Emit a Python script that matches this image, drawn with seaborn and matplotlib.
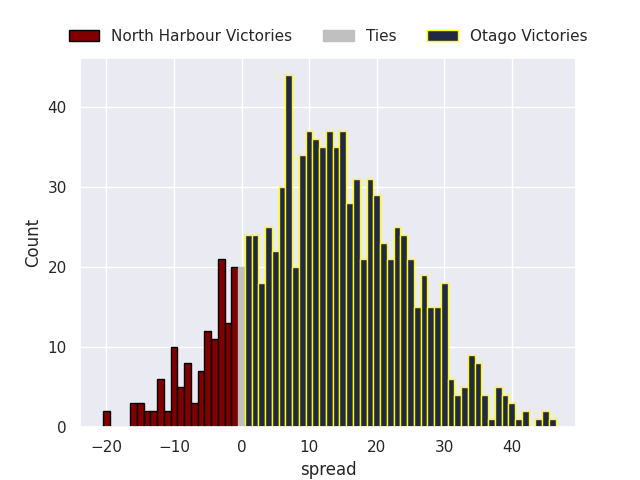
import matplotlib
matplotlib.use("Agg")
import matplotlib.pyplot as plt
import seaborn as sns
import pandas as pd

# North Harbour victories (negative spread)
nh_spread = [-20, -16, -15, -14, -13, -12, -11, -10, -9, -8, -7, -6, -5, -4, -3, -2, -1]
nh_count = [2, 3, 3, 2, 2, 6, 2, 10, 5, 8, 3, 7, 12, 11, 21, 13, 20]

# Ties
tie_spread = [0]
tie_count = [20]

# Otago victories (positive spread)
ot_spread = list(range(1, 47))
ot_count = [24, 24, 18, 25, 22, 30, 44, 20, 34, 37, 36, 35, 37, 35, 37, 28,
            31, 21, 31, 29, 23, 21, 25, 24, 21, 15, 19, 15, 15, 18, 6, 4,
            5, 9, 8, 4, 1, 5, 4, 3, 1, 2, 0, 1, 2, 1]

labels = ["North Harbour Victories", "Ties", "Otago Victories"]

sns.set_theme(style="darkgrid")
fig, ax = plt.subplots(figsize=(6.4, 4.8), dpi=100)

nh = pd.DataFrame({"spread": nh_spread, "n": nh_count})
ti = pd.DataFrame({"spread": tie_spread, "n": tie_count})
ot = pd.DataFrame({"spread": ot_spread, "n": ot_count})

sns.histplot(data=nh, x="spread", weights="n", discrete=True, ax=ax,
             color="#800000", edgecolor="black", linewidth=1, alpha=1,
             label=labels[0])
sns.histplot(data=ti, x="spread", weights="n", discrete=True, ax=ax,
             color="silver", edgecolor="silver", linewidth=1, alpha=1,
             label=labels[1])
sns.histplot(data=ot, x="spread", weights="n", discrete=True, ax=ax,
             color="#212944", edgecolor="yellow", linewidth=1, alpha=1,
             label=labels[2])

ax.set_xlabel("spread")
ax.set_ylabel("Count")
ax.set_xlim(-23.9, 49.5)
ax.set_ylim(0, 46.2)
ax.legend(loc="center", bbox_to_anchor=(0.5, 1.057), ncol=3, frameon=False)

fig.savefig("out.png", dpi=100)
